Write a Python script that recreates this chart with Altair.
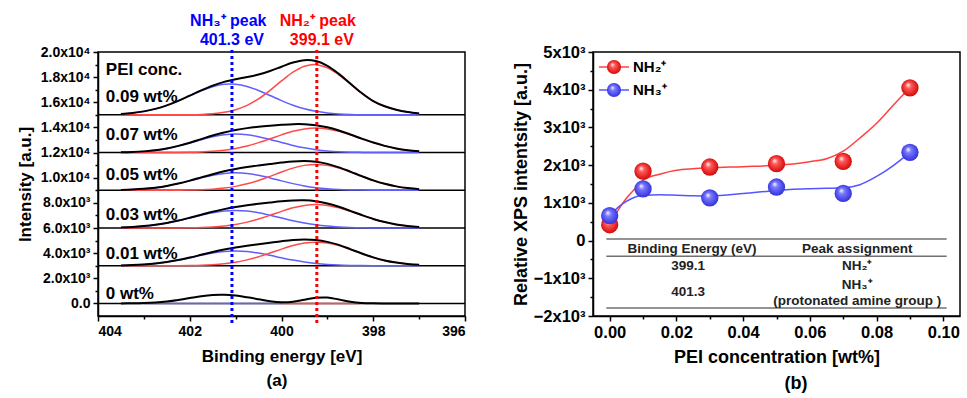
import altair as alt
import pandas as pd

FONT = "Liberation Sans"

# ---------------- Panel (a): N1s XPS spectra ----------------
energy = [403.5, 403.25, 403.0, 402.75, 402.5, 402.25, 402.0, 401.75, 401.5,
          401.25, 401.0, 400.75, 400.5, 400.25, 400.0, 399.75, 399.5, 399.25,
          399.0, 398.75, 398.5, 398.25, 398.0, 397.75, 397.5, 397.25, 397.0]

spectra = ["0 wt%", "0.01 wt%", "0.03 wt%", "0.05 wt%", "0.07 wt%", "0.09 wt%"]
offsets = [0, 3000, 6000, 9000, 12000, 15000]
label_y = [740, 3950, 7020, 10240, 13360, 16430]

# NH3+ (blue) component heights above each baseline
blue_001 = [25, 51, 99, 177, 291, 446, 631, 827, 1003, 1126, 1170, 1126, 1003, 827, 631, 446, 291, 177, 99, 51, 25, 11, 5, 2, 0, 0, 0]
blue_003 = [43, 83, 152, 254, 400, 585, 799, 1017, 1211, 1343, 1390, 1343, 1211, 1017, 799, 585, 400, 254, 152, 83, 43, 21, 9, 4, 1, 0, 0]
blue_005 = [29, 61, 118, 210, 346, 530, 749, 983, 1191, 1337, 1390, 1337, 1191, 983, 749, 530, 346, 210, 118, 61, 29, 13, 5, 2, 0, 0, 0]
blue_007 = [20, 45, 95, 180, 320, 520, 760, 1020, 1250, 1410, 1470, 1415, 1265, 1045, 800, 570, 375, 230, 130, 68, 33, 15, 6, 2, 0, 0, 0]
blue_009 = [74, 149, 277, 475, 756, 1114, 1519, 1918, 2242, 2425, 2428, 2251, 1933, 1536, 1130, 769, 485, 282, 153, 76, 35, 15, 6, 0, 0, 0, 0]

# NH2+ (red) component heights above each baseline
red_001 = [0, 0, 0, 1, 3, 7, 18, 39, 82, 158, 282, 466, 712, 1008, 1322, 1603, 1799, 1870, 1799, 1603, 1290, 960, 660, 420, 250, 135, 68]
red_003 = [0, 0, 0, 1, 3, 7, 18, 39, 82, 158, 282, 466, 712, 1008, 1322, 1603, 1799, 1870, 1799, 1603, 1322, 1008, 712, 466, 282, 158, 82]
red_005 = [0, 0, 0, 1, 3, 8, 19, 43, 90, 174, 311, 513, 785, 1110, 1456, 1765, 1982, 2060, 1982, 1765, 1456, 1110, 785, 513, 311, 174, 90]
red_007 = [0, 0, 0, 1, 4, 11, 25, 53, 105, 193, 332, 530, 790, 1094, 1408, 1689, 1881, 1950, 1881, 1689, 1408, 1094, 790, 530, 332, 193, 105]
red_009 = [0, 0, 0, 0, 1, 4, 13, 35, 88, 199, 409, 757, 1274, 1947, 2698, 3392, 3864, 3995, 3746, 3185, 2456, 1718, 1090, 680, 400, 220, 110]

# raw envelope of the 0 wt% sample, and its flat (empty) components
total_000 = [4, 13, 34, 79, 160, 281, 431, 579, 678, 695, 622, 487, 332, 170, 90, 130, 295, 450, 466, 314, 138, 39, 7, 1, 0, 0, 0]
flat_blue_energy = [403.0, 400.0]
flat_red_energy = [400.0, 398.3]

peak_lines = [401.08, 399.23]

# ---------------- Panel (b): relative intensities ----------------
conc = [0.00, 0.01, 0.03, 0.05, 0.07, 0.09]
nh2 = [420, 1840, 1950, 2040, 2100, 4050]
nh3 = [660, 1370, 1130, 1420, 1250, 2340]
fit_conc = [0, 0.0025, 0.005, 0.0075, 0.01, 0.015, 0.02, 0.025, 0.03, 0.04,
            0.05, 0.055, 0.06, 0.065, 0.07, 0.075, 0.08, 0.085, 0.09]
nh2_fit = [420, 800, 1120, 1370, 1600, 1760, 1865, 1905, 1930, 1960, 1995,
           2030, 2090, 2170, 2370, 2720, 3110, 3590, 4050]
nh3_fit = [660, 880, 1040, 1150, 1200, 1215, 1205, 1190, 1185, 1245, 1330,
           1360, 1375, 1385, 1400, 1480, 1700, 1990, 2340]

table_rule_y = [40, -416, -1785]
table_text = ["Binding Energy (eV)", "Peak assignment", "399.1", "NH\u2082\u207a",
              "401.3", "NH\u2083\u207a", "(protonated amine group )"]
table_x = [0.0247, 0.0742, 0.0235, 0.0742, 0.0235, 0.0742, 0.0742]
table_y = [-212, -212, -682, -682, -1353, -1167, -1610]

# ================= build panel (a) =================
rows_blue, rows_red, rows_black = [], [], []
fits = {"0.01 wt%": (blue_001, red_001), "0.03 wt%": (blue_003, red_003),
        "0.05 wt%": (blue_005, red_005), "0.07 wt%": (blue_007, red_007),
        "0.09 wt%": (blue_009, red_009)}
for name, off in zip(spectra, offsets):
    if name == "0 wt%":
        for e, v in zip(energy, total_000):
            rows_black.append({"energy": e, "intensity": off + v, "s": name})
        for e in flat_blue_energy:
            rows_blue.append({"energy": e, "intensity": off, "s": name})
        for e in flat_red_energy:
            rows_red.append({"energy": e, "intensity": off, "s": name})
        continue
    b, r = fits[name]
    for e, vb, vr in zip(energy, b, r):
        rows_blue.append({"energy": e, "intensity": off + vb, "s": name})
        rows_red.append({"energy": e, "intensity": off + vr, "s": name})
        rows_black.append({"energy": e, "intensity": off + vb + vr, "s": name})

df_blue = pd.DataFrame(rows_blue)
df_red = pd.DataFrame(rows_red)
df_black = pd.DataFrame(rows_black)
df_base = pd.DataFrame({"intensity": offsets})
df_labels = pd.DataFrame({"energy": [403.83] * 7,
                          "intensity": [18560] + label_y[::-1],
                          "t": ["PEI conc."] + spectra[::-1]})

W, H = 367, 264

XA = alt.X("energy:Q",
           scale=alt.Scale(domain=[396, 404], reverse=True, nice=False, zero=False),
           axis=alt.Axis(values=list(range(396, 405)),
                         labelExpr="datum.value % 2 !== 0 ? '' : format(datum.value, 'd')",
                         tickSize={"condition": {"test": "datum.value % 2 === 0", "value": 5}, "value": 3},
                         title="Binding energy [eV]", titlePadding=10))
YA = alt.Y("intensity:Q",
           scale=alt.Scale(domain=[-1000, 20000], nice=False, zero=False),
           axis=alt.Axis(values=list(range(0, 20001, 1000)),
                         labelExpr="datum.value % 2000 !== 0 ? '' : (datum.value === 0 ? '0.0' : (datum.value >= 10000 ? format(datum.value / 10000, '.1f') + 'x10\u2074' : format(datum.value / 1000, '.1f') + 'x10\u00b3'))",
                         tickSize={"condition": {"test": "datum.value % 2000 === 0", "value": 5}, "value": 3},
                         title="Intensity [a.u.]", titlePadding=6))

base = alt.Chart(df_base).mark_rule(color="black", strokeWidth=1.5).encode(y=YA)
blue_l = alt.Chart(df_blue).mark_line(color="#5f5fff", strokeWidth=1.5, interpolate="catmull-rom").encode(x=XA, y=YA, detail="s:N")
red_l = alt.Chart(df_red).mark_line(color="#ff4a4a", strokeWidth=1.5, interpolate="catmull-rom").encode(x=XA, y=YA, detail="s:N")
black_l = alt.Chart(df_black).mark_line(color="black", strokeWidth=2, interpolate="catmull-rom").encode(x=XA, y=YA, detail="s:N")

df_peaks = pd.DataFrame({"energy": peak_lines, "c": ["#0000ff", "#ff0000"]})
dots = alt.Chart(df_peaks).mark_rule(strokeWidth=3, strokeDash=[3, 3]).encode(
    x=XA, y=alt.value(-2), y2=alt.value(272), color=alt.Color("c:N", scale=None))

labels = alt.Chart(df_labels).mark_text(align="left", baseline="middle", font=FONT,
                                        fontSize=17, fontWeight="bold", color="black").encode(
    x=XA, y=YA, text="t:N")

df_ann = pd.DataFrame({"energy": [401.16, 401.08, 399.21, 399.12],
                       "py": [-31, -12, -31, -12],
                       "t": ["NH\u2083\u207a peak", "401.3 eV", "NH\u2082\u207a peak", "399.1 eV"],
                       "c": ["#0000ff", "#0000ff", "#ff0000", "#ff0000"]})
ann = alt.Chart(df_ann).mark_text(align="center", baseline="middle", font=FONT,
                                  fontSize=16, fontWeight="bold").encode(
    x=XA, y=alt.Y("py:Q", scale=None), text="t:N", color=alt.Color("c:N", scale=None))

tag_a = alt.Chart(pd.DataFrame({"t": ["(a)"]})).mark_text(
    font=FONT, fontSize=17, fontWeight="bold", color="black", baseline="middle").encode(
    x=alt.value(179), y=alt.value(329), text="t:N")

left = alt.layer(base, blue_l, red_l, black_l, dots, labels, ann, tag_a).properties(width=W, height=H)

# ================= build panel (b) =================
XB = alt.X("conc:Q",
           scale=alt.Scale(domain=[-0.005, 0.105], nice=False, zero=False),
           axis=alt.Axis(values=[0, 0.01, 0.02, 0.03, 0.04, 0.05, 0.06, 0.07, 0.08, 0.09, 0.1],
                         labelExpr="round(datum.value * 100) % 2 !== 0 ? '' : format(datum.value, '.2f')",
                         tickSize={"condition": {"test": "round(datum.value * 100) % 2 === 0", "value": 5}, "value": 3},
                         labelFontSize=16.5, titleFontSize=18,
                         title="PEI concentration [wt%]", titlePadding=8))
YB = alt.Y("val:Q",
           scale=alt.Scale(domain=[-2000, 5000], nice=False, zero=False),
           axis=alt.Axis(values=list(range(-2000, 5001, 500)),
                         labelExpr="datum.value % 1000 !== 0 ? '' : (datum.value === 0 ? '0' : format(datum.value / 1000, 'd') + 'x10\u00b3')",
                         tickSize={"condition": {"test": "datum.value % 1000 === 0", "value": 5}, "value": 3},
                         labelFontSize=16.5, titleFontSize=18,
                         title="Relative XPS intentsity [a.u.]", titlePadding=3))

df_trule = pd.DataFrame({"conc": [-0.001] * 3, "conc2": [0.101] * 3, "val": table_rule_y})
trules = alt.Chart(df_trule).mark_rule(color="#707070", strokeWidth=1.5).encode(
    x=XB, x2="conc2:Q", y=YB)
df_ttext = pd.DataFrame({"conc": table_x, "val": table_y, "t": table_text})
ttext = alt.Chart(df_ttext).mark_text(font=FONT, fontSize=13.5, fontWeight="bold",
                                      color="#222222", baseline="middle").encode(x=XB, y=YB, text="t:N")

df_fit2 = pd.DataFrame({"conc": fit_conc, "val": nh2_fit})
df_fit3 = pd.DataFrame({"conc": fit_conc, "val": nh3_fit})
fit2 = alt.Chart(df_fit2).mark_line(color="#ff4040", strokeWidth=1.5, interpolate="monotone").encode(x=XB, y=YB)
fit3 = alt.Chart(df_fit3).mark_line(color="#5555ff", strokeWidth=1.5, interpolate="monotone").encode(x=XB, y=YB)


def sphere(light, dark):
    return alt.RadialGradient(
        gradient="radial", x1=0.38, y1=0.32, r1=0.0, x2=0.5, y2=0.5, r2=0.55,
        stops=[alt.GradientStop(offset=0.0, color="#ffffff"),
               alt.GradientStop(offset=0.3, color=light),
               alt.GradientStop(offset=1.0, color=dark)])


red_grad = sphere("#ff5a5a", "#d10000")
blue_grad = sphere("#7a7aff", "#2a2ad8")

df_p2 = pd.DataFrame({"conc": conc, "val": nh2})
df_p3 = pd.DataFrame({"conc": conc, "val": nh3})
pts2 = alt.Chart(df_p2).mark_point(filled=True, fill=red_grad, size=300, opacity=1, strokeWidth=0).encode(x=XB, y=YB)
pts3 = alt.Chart(df_p3).mark_point(filled=True, fill=blue_grad, size=300, opacity=1, strokeWidth=0).encode(x=XB, y=YB)

# legend (drawn inside the plot, top-left)
leg_rows = pd.DataFrame({"t": ["NH\u2082\u207a", "NH\u2083\u207a"], "py": [15, 38]})
leg_line2 = alt.Chart(leg_rows.iloc[[0]]).mark_rule(color="#ff4040", strokeWidth=1.5).encode(
    x=alt.value(6), x2=alt.value(36), y=alt.value(15))
leg_line3 = alt.Chart(leg_rows.iloc[[1]]).mark_rule(color="#5555ff", strokeWidth=1.5).encode(
    x=alt.value(6), x2=alt.value(36), y=alt.value(38))
leg_pt2 = alt.Chart(leg_rows.iloc[[0]]).mark_point(filled=True, fill=red_grad, size=200, opacity=1, strokeWidth=0).encode(
    x=alt.value(21), y=alt.value(15))
leg_pt3 = alt.Chart(leg_rows.iloc[[1]]).mark_point(filled=True, fill=blue_grad, size=200, opacity=1, strokeWidth=0).encode(
    x=alt.value(21), y=alt.value(38))
leg_txt = alt.Chart(leg_rows).mark_text(align="left", baseline="middle", font=FONT, fontSize=15,
                                        fontWeight="bold", color="black").encode(
    x=alt.value(40), y=alt.Y("py:Q", scale=None), text="t:N")

tag_b = alt.Chart(pd.DataFrame({"t": ["(b)"]})).mark_text(
    font=FONT, fontSize=18, fontWeight="bold", color="black", baseline="middle").encode(
    x=alt.value(203), y=alt.value(332), text="t:N")

right = alt.layer(trules, ttext, fit2, fit3, pts2, pts3,
                  leg_line2, leg_line3, leg_pt2, leg_pt3, leg_txt, tag_b).properties(width=W, height=H)

chart = alt.hconcat(left, right, spacing=128, bounds="flush").properties(
    padding={"left": 15, "top": 12, "right": 6, "bottom": 5}, background="white"
).configure_view(stroke="black", strokeWidth=1.5).configure_axis(
    domainColor="black", domainWidth=1.5, tickColor="black", tickWidth=1.5,
    labelFont=FONT, labelFontSize=14, labelFontWeight="bold", labelColor="black",
    labelPadding=3, titleFont=FONT, titleFontSize=17, titleFontWeight="bold",
    titleColor="black", grid=False)

chart.save("out.html", embed_options={"renderer": "svg", "actions": False})
